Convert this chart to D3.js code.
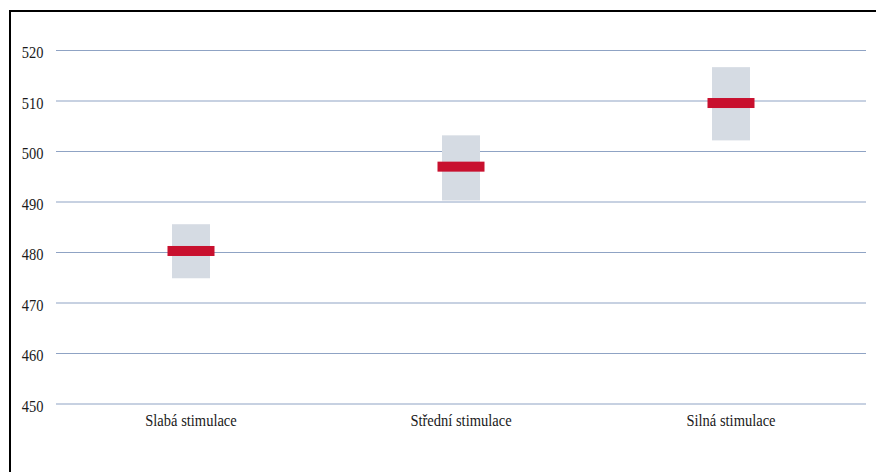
<!DOCTYPE html>
<html><head><meta charset="utf-8">
<script src="https://cdn.jsdelivr.net/npm/d3@7"></script>
<style>body{margin:0;background:#fff}svg{display:block}</style>
</head><body>
<script>
const categories = ["Slabá stimulace", "Střední stimulace", "Silná stimulace"];
const means = [480.3, 497.0, 509.6];
const ciLow = [474.9, 490.3, 502.2];
const ciHigh = [485.6, 503.2, 516.7];
const yTicks = [450, 460, 470, 480, 490, 500, 510, 520];

const W = 876, H = 472;
const FONT = "'Liberation Serif', 'Times New Roman', Times, serif";
const svg = d3.select("body").append("svg").attr("width", W).attr("height", H);

// outer frame (cut off at right and bottom)
svg.append("rect").attr("x", 10).attr("y", 11).attr("width", 900).attr("height", 500)
  .attr("fill", "none").attr("stroke", "#000").attr("stroke-width", 2);

const x = d3.scaleBand().domain(categories).range([56, 866]);
const y = d3.scaleLinear().domain([450, 520]).range([404, 50.5]);

// gridlines
svg.append("g").selectAll("line").data(yTicks).join("line")
  .attr("x1", 56).attr("x2", 866)
  .attr("y1", d => y(d)).attr("y2", d => y(d))
  .attr("stroke", "#8fa3c4").attr("stroke-width", 1);

// y axis labels (narrow, tall serif)
svg.append("g").selectAll("text").data(yTicks).join("text")
  .attr("transform", d => `translate(43.5,${y(d) + 7.8}) scale(0.85,1)`)
  .attr("text-anchor", "end")
  .style("font-family", FONT).attr("font-size", 17)
  .attr("fill", "#1a1a1a").text(d => d);

// x labels
svg.append("g").selectAll("text").data(categories).join("text")
  .attr("transform", d => `translate(${x(d) + x.bandwidth() / 2},425.5) scale(0.88,1)`)
  .attr("text-anchor", "middle")
  .style("font-family", FONT).attr("font-size", 16.5)
  .attr("fill", "#1a1a1a").text(d => d);

const boxW = 38, barW = 47, barH = 10;
// CI boxes
svg.append("g").selectAll("rect").data(categories).join("rect")
  .attr("x", d => x(d) + x.bandwidth() / 2 - boxW / 2)
  .attr("width", boxW)
  .attr("y", (d, i) => y(ciHigh[i]))
  .attr("height", (d, i) => y(ciLow[i]) - y(ciHigh[i]))
  .attr("fill", "#d5dbe3");

// mean bars
svg.append("g").selectAll("rect").data(categories).join("rect")
  .attr("x", d => x(d) + x.bandwidth() / 2 - barW / 2)
  .attr("width", barW)
  .attr("y", (d, i) => y(means[i]) - barH / 2)
  .attr("height", barH)
  .attr("fill", "#c8102e");
</script>
</body></html>
